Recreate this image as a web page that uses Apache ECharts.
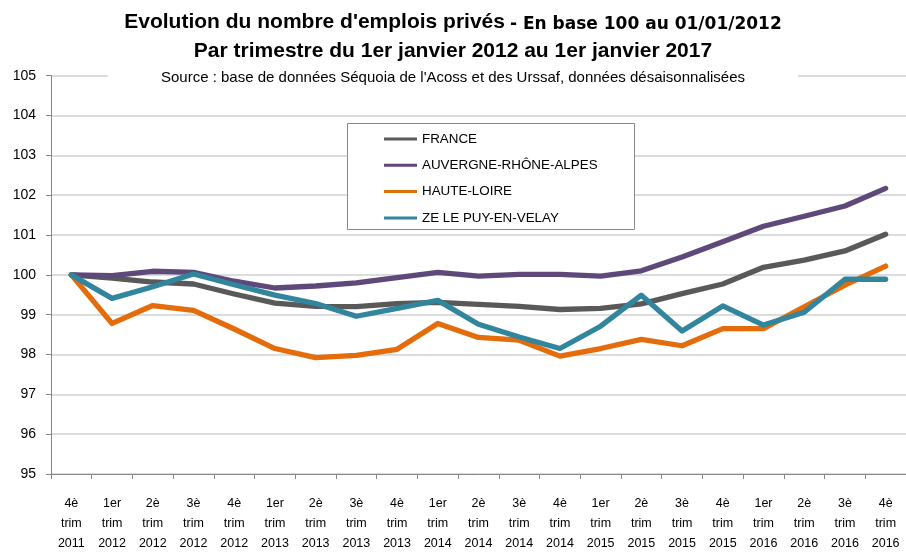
<!DOCTYPE html>
<html>
<head>
<meta charset="utf-8">
<script src="https://cdn.jsdelivr.net/npm/echarts@6/dist/echarts.min.js"></script>
<style>
html,body{margin:0;padding:0;background:#fff;}
#chart{width:906px;height:555px;}
</style>
</head>
<body>
<div id="chart"></div>
<script>
var categories = [
  "4è\ntrim\n2011", "1er\ntrim\n2012", "2è\ntrim\n2012", "3è\ntrim\n2012", "4è\ntrim\n2012",
  "1er\ntrim\n2013", "2è\ntrim\n2013", "3è\ntrim\n2013", "4è\ntrim\n2013",
  "1er\ntrim\n2014", "2è\ntrim\n2014", "3è\ntrim\n2014", "4è\ntrim\n2014",
  "1er\ntrim\n2015", "2è\ntrim\n2015", "3è\ntrim\n2015", "4è\ntrim\n2015",
  "1er\ntrim\n2016", "2è\ntrim\n2016", "3è\ntrim\n2016", "4è\ntrim\n2016"
];
var seriesNames = ["FRANCE", "AUVERGNE-RHÔNE-ALPES", "HAUTE-LOIRE", "ZE LE PUY-EN-VELAY"];
var france = [100, 99.92, 99.82, 99.77, 99.52, 99.29, 99.21, 99.2, 99.28, 99.31, 99.26, 99.21, 99.13, 99.16, 99.27, 99.53, 99.77, 100.19, 100.37, 100.6, 101.02];
var aura = [100, 99.98, 100.09, 100.06, 99.84, 99.67, 99.72, 99.8, 99.93, 100.06, 99.97, 100.01, 100.01, 99.97, 100.1, 100.45, 100.83, 101.22, 101.47, 101.73, 102.17];
var hauteLoire = [100, 98.78, 99.23, 99.11, 98.64, 98.15, 97.92, 97.98, 98.13, 98.78, 98.43, 98.36, 97.96, 98.15, 98.38, 98.22, 98.65, 98.65, 99.2, 99.74, 100.22];
var zeLePuy = [100, 99.41, 99.7, 100.02, 99.75, 99.49, 99.28, 98.96, 99.16, 99.36, 98.76, 98.44, 98.15, 98.71, 99.49, 98.59, 99.22, 98.74, 99.06, 99.89, 99.89];
var colors = ["#595959", "#5F497A", "#E46C0A", "#31859C"];
var yMin = 95, yMax = 105, yStep = 1;

var chart = echarts.init(document.getElementById('chart'), null, {renderer: 'canvas'});
var dataSets = [france, aura, hauteLoire, zeLePuy];
var series = dataSets.map(function (d, i) {
  return {
    name: seriesNames[i],
    type: 'line',
    data: d,
    symbol: 'none',
    smooth: false,
    animation: false,
    lineStyle: {color: colors[i], width: 5.3, cap: 'round', join: 'round'},
    itemStyle: {color: colors[i]},
    z: 2 + i
  };
});

chart.setOption({
  animation: false,
  backgroundColor: '#ffffff',
  title: [
    {
      left: 'center', top: 7, padding: 0,
      text: "{a|Evolution du nombre d'emplois privés} {b|- En base 100 au 01/01/2012}",
      textStyle: {
        rich: {
          a: {fontFamily: 'Liberation Sans', fontWeight: 'bold', fontSize: 21, color: '#000', lineHeight: 26, verticalAlign: 'bottom'},
          b: {fontFamily: 'DejaVu Sans', fontWeight: 'bold', fontSize: 17, color: '#000', lineHeight: 24, verticalAlign: 'bottom'}
        }
      }
    },
    {
      left: 'center', top: 39, padding: 0,
      text: "Par trimestre du 1er janvier 2012 au 1er janvier 2017",
      textStyle: {fontFamily: 'Liberation Sans', fontWeight: 'bold', fontSize: 21, color: '#000', lineHeight: 24}
    },
    {
      left: 'center', top: 67, padding: [2, 53, 2, 53],
      backgroundColor: '#ffffff',
      text: "Source : base de données Séquoia de l'Acoss et des Urssaf, données désaisonnalisées",
      textStyle: {fontFamily: 'Liberation Sans', fontWeight: 'normal', fontSize: 15, color: '#000', lineHeight: 17}
    }
  ],
  graphic: [{
    type: 'rect', z: 3, silent: true,
    shape: {x: 347.5, y: 123.5, width: 287, height: 106},
    style: {fill: '#ffffff', stroke: '#888888', lineWidth: 1}
  }],
  legend: {
    orient: 'vertical',
    left: 384, top: 131,
    padding: 0,
    itemGap: 10.3,
    itemWidth: 33, itemHeight: 3,
    icon: 'rect',
    z: 5,
    data: seriesNames,
    textStyle: {fontFamily: 'Liberation Sans', fontSize: 13.4, color: '#000', lineHeight: 16, padding: [0, 0, 0, 0]}
  },
  grid: {left: 51, right: 0, top: 75.7, bottom: 81, containLabel: false},
  xAxis: {
    type: 'category',
    data: categories,
    boundaryGap: true,
    axisLine: {show: true, lineStyle: {color: '#868686', width: 1}},
    axisTick: {show: true, length: 5, inside: false, lineStyle: {color: '#868686'}},
    axisLabel: {
      interval: 0, margin: 20,
      fontFamily: 'Liberation Sans', fontSize: 12.5, color: '#000', lineHeight: 20
    },
    splitLine: {show: false}
  },
  yAxis: {
    type: 'value',
    min: yMin, max: yMax, interval: yStep,
    axisLine: {show: true, lineStyle: {color: '#868686', width: 1}},
    axisTick: {show: true, length: 5, inside: false, lineStyle: {color: '#868686'}},
    axisLabel: {margin: 15, fontFamily: 'Liberation Sans', fontSize: 14, color: '#000'},
    splitLine: {show: true, lineStyle: {color: '#D0D0D0', width: 1.5}}
  },
  series: series
});
</script>
</body>
</html>
